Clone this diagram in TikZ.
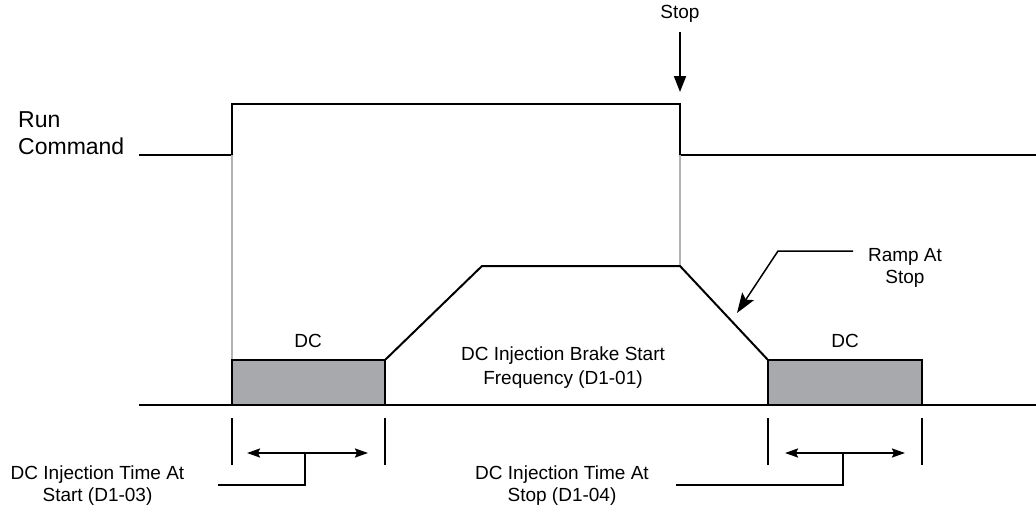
\documentclass[tikz,border=0pt]{standalone}
\usepackage{fontspec}
\setmainfont{Liberation Sans}
\usetikzlibrary{arrows.meta}
\definecolor{dcgray}{HTML}{A7A9AC}
\definecolor{guide}{HTML}{B4B4B4}
\begin{document}
\begin{tikzpicture}[x=1pt,y=-1pt,
  wave/.style={line width=2pt, line join=miter},
  guideline/.style={guide, line width=1.3pt},
  tickline/.style={line width=1.5pt},
  dcbox/.style={fill=dcgray, draw=black, line width=2pt},
  lbl/.style={font=\fontsize{19}{24}\selectfont, align=center, inner sep=0pt},
  biglbl/.style={font=\fontsize{23}{27}\selectfont, align=left, inner sep=0pt},
  leader/.style={line width=1.5pt},
  dbl/.style={line width=2pt, {Stealth[length=13pt,width=9pt,inset=2pt]}-{Stealth[length=13pt,width=9pt,inset=2pt]}},
]
\useasboundingbox (0,0) rectangle (1036,514);

% run command waveform
\coordinate (r0) at (139,155);
\coordinate (r1) at (232,155);
\coordinate (r2) at (232,104);
\coordinate (r3) at (680,104);
\coordinate (r4) at (680,155);
\coordinate (r5) at (1036,155);
\draw[wave] (r0) -- (r1) -- (r2) -- (r3) -- (r4) -- (r5);

% frequency waveform
\coordinate (f0) at (385,360);
\coordinate (f1) at (482,266);
\coordinate (f2) at (680,266);
\coordinate (f3) at (768,360);
\coordinate (g1) at (232,360);

% guide lines
\draw[guideline] (r1) -- (g1);
\draw[guideline] (r4) -- (f2);

% DC boxes
\coordinate (d1a) at (232,360);
\coordinate (d1b) at (385,405);
\coordinate (d2a) at (768,360);
\coordinate (d2b) at (922,405);
\draw[dcbox] (d1a) rectangle (d1b);
\draw[dcbox] (d2a) rectangle (d2b);

\draw[wave] (f0) -- (f1) -- (f2) -- (f3);

% baseline
\coordinate (b0) at (139,405);
\coordinate (b1) at (1036,405);
\draw[wave] (b0) -- (b1);

% labels
\node[biglbl, anchor=west] (run) at (18,133) {Run\\Command};
\node[lbl] (stop) at (680,14) {Stop};
\coordinate (stopA) at (680,32);
\coordinate (stopB) at (680,92);
\draw[line width=2pt, -{Triangle[length=16pt,width=12pt]}] (stopA) -- (stopB);

\node[lbl] (dcl) at (308,341) {DC};
\node[lbl] (dcr) at (845,341) {DC};
\node[lbl] (brake) at (563,368) {DC Injection Brake Start\\Frequency (D1-01)};

\node[lbl, font=\fontsize{19}{22}\selectfont] (ramp) at (905,268) {Ramp At\\Stop};
\coordinate (rampA) at (853,251);
\coordinate (rampB) at (778,251);
\coordinate (rampC) at (737,313);
\draw[leader, -{Stealth[length=20pt,width=14pt,inset=4pt]}] (rampA) -- (rampB) -- (rampC);

% ticks
\foreach \x/\n in {232/t1,385/t2,768/t3,922/t4}{
  \coordinate (\n a) at (\x,418);
  \coordinate (\n b) at (\x,465);
  \draw[tickline] (\n a) -- (\n b);
}

% duration arrows
\coordinate (la) at (247,453);
\coordinate (lb) at (368,453);
\coordinate (lc) at (305,453);
\coordinate (ld) at (305,485);
\coordinate (le) at (218,485);
\draw[dbl] (la) -- (lb);
\draw[leader] (lc) -- (ld) -- (le);
\node[lbl, font=\fontsize{19}{22}\selectfont] (tstart) at (97.5,486) {DC Injection Time At\\Start (D1-03)};

\coordinate (ra) at (785,453);
\coordinate (rb) at (905,453);
\coordinate (rc) at (843,453);
\coordinate (rd) at (843,485);
\coordinate (re) at (676,485);
\draw[dbl] (ra) -- (rb);
\draw[leader] (rc) -- (rd) -- (re);
\node[lbl, font=\fontsize{19}{22}\selectfont] (tstop) at (562,486) {DC Injection Time At\\Stop (D1-04)};
\end{tikzpicture}
\end{document}
